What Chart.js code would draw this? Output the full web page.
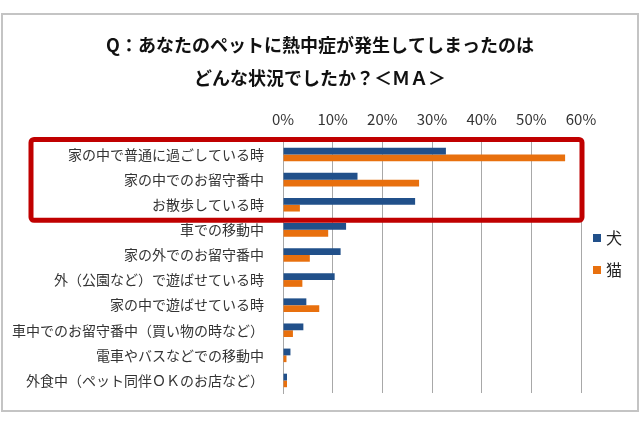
<!DOCTYPE html>
<html>
<head>
<meta charset="utf-8">
<script src="https://cdn.jsdelivr.net/npm/chart.js@4"></script>
<style>
  body { margin: 0; background: #fff; }
  canvas { display: block; }
</style>
</head>
<body>
<canvas id="chart" width="640" height="426"></canvas>
<script>
// data (percent)
const categories = [
  "家の中で普通に過ごしている時",
  "家の中でのお留守番中",
  "お散歩している時",
  "車での移動中",
  "家の外でのお留守番中",
  "外（公園など）で遊ばせている時",
  "家の中で遊ばせている時",
  "車中でのお留守番中（買い物の時など）",
  "電車やバスなどでの移動中",
  "外食中（ペット同伴ＯＫのお店など）"
];
const dogValues = [32.8, 15.0, 26.6, 12.7, 11.6, 10.4, 4.7, 4.1, 1.5, 0.8];
const catValues = [56.8, 27.4, 3.4, 9.1, 5.4, 3.9, 7.3, 2.0, 0.7, 0.8];
const seriesNames = ["犬", "猫"];
const seriesColors = ["#21508a", "#e8700e"];
const titleLines = ["Q：あなたのペットに熱中症が発生してしまったのは", "どんな状況でしたか？＜ＭＡ＞"];
const highlightRows = 3; // first rows boxed in red

const FONT = "'Noto Sans CJK JP', 'Noto Sans', sans-serif";

// white background, grey frame and the two-line title (centred on the whole image)
const framePlugin = {
  id: "frame",
  beforeDraw(chart) {
    const ctx = chart.ctx;
    ctx.save();
    ctx.fillStyle = "#fff";
    ctx.fillRect(0, 0, chart.width, chart.height);
    ctx.strokeStyle = "#c4c4c4";
    ctx.lineWidth = 2;
    ctx.strokeRect(2, 14, chart.width - 4, 397);

    ctx.fillStyle = "#111";
    ctx.font = "bold 18px " + FONT;
    ctx.textAlign = "center";
    ctx.textBaseline = "middle";
    titleLines.forEach((line, i) => {
      ctx.fillText(line, chart.width / 2, 45 + i * 33);
    });
    ctx.restore();
  }
};

// legend on the right + red box round the top rows
const overlayPlugin = {
  id: "overlay",
  afterDraw(chart) {
    const ctx = chart.ctx;
    const x = chart.scales.x;
    const area = chart.chartArea;

    ctx.save();
    ctx.font = "16px " + FONT;
    ctx.textBaseline = "middle";
    chart.data.datasets.forEach((ds, i) => {
      const cy = 238 + i * 32;
      ctx.fillStyle = ds.backgroundColor;
      ctx.fillRect(area.right + 12, cy - 4, 8, 8);
      ctx.fillStyle = "#222";
      ctx.fillText(ds.label, area.right + 25, cy);
    });

    const step = (area.bottom - area.top) / categories.length;
    const top = area.top - 2.5;
    const bottom = area.top + step * highlightRows + 3;
    const left = 31;
    const right = x.getPixelForValue(60) + 1;
    ctx.strokeStyle = "#c00000";
    ctx.lineWidth = 5;
    ctx.beginPath();
    ctx.roundRect(left, top, right - left, bottom - top, 3);
    ctx.stroke();
    ctx.restore();
  }
};

new Chart(document.getElementById("chart"), {
  type: "bar",
  data: {
    labels: categories,
    datasets: [
      { label: seriesNames[0], data: dogValues, backgroundColor: seriesColors[0] },
      { label: seriesNames[1], data: catValues, backgroundColor: seriesColors[1] }
    ]
  },
  options: {
    indexAxis: "y",
    responsive: false,
    animation: false,
    devicePixelRatio: 1,
    layout: { padding: { top: 95, right: 59, bottom: 33, left: 0 } },
    datasets: {
      bar: { categoryPercentage: 0.54, barPercentage: 1.0 }
    },
    plugins: {
      legend: { display: false },
      tooltip: { enabled: false },
      title: { display: false }
    },
    scales: {
      x: {
        position: "top",
        min: 0,
        max: 60,
        ticks: {
          stepSize: 10,
          padding: 14,
          color: "#333",
          font: { family: FONT, size: 15 },
          callback: (v) => v + "%"
        },
        grid: { color: "#a8a8a8", lineWidth: 1, drawTicks: false },
        border: { display: false },
        afterFit(scale) { scale.height = 47; }
      },
      y: {
        ticks: {
          padding: 11,
          color: "#333",
          font: { family: FONT, size: 14 }
        },
        grid: { display: false },
        border: { display: true, color: "#a8a8a8", width: 1 },
        afterFit(scale) { scale.width = 283; }
      }
    }
  },
  plugins: [framePlugin, overlayPlugin]
});
</script>
</body>
</html>
